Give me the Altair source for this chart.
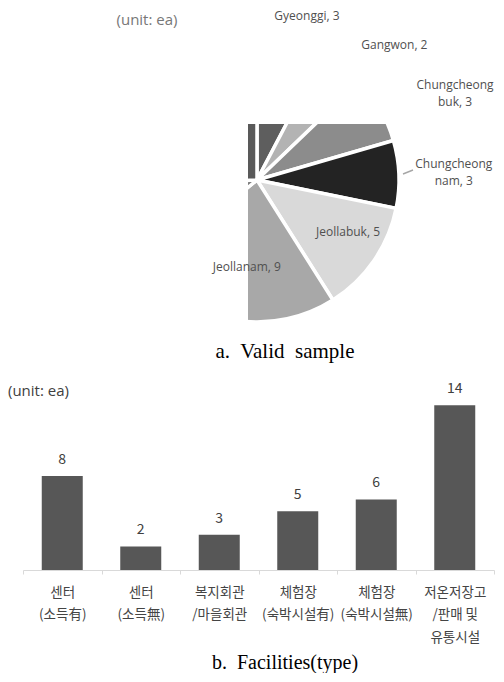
import altair as alt
import pandas as pd

# ---------------- panel a: valid sample by region (pie, cropped in the source figure)
regions = ["Gyeonggi", "Gangwon", "Chungcheong\nbuk", "Chungcheong\nnam",
           "Jeollabuk", "Jeollanam", "Gyeongsangbuk", "Gyeongsangnam"]
region_counts = [3, 2, 3, 3, 5, 9, 4, 10]
region_colors = ["#5e5e5e", "#b3b3b3", "#8c8c8c", "#232323",
                 "#d9d9d9", "#a8a8a8", "#7d7d7d", "#595959"]

# ---------------- panel b: facilities by type
facility_types = ["센터\n(소득有)", "센터\n(소득無)", "복지회관\n/마을회관",
                  "체험장\n(숙박시설有)", "체험장\n(숙박시설無)", "저온저장고\n/판매 및\n유통시설"]
facility_counts = [8, 2, 3, 5, 6, 14]

# label placement style for the visible pie labels: (radius, dx, dy, line height)
label_place = [(171, 9, 2, 12), (192, 22, 18.5, 12), (216, 11, 13, 17),
               (207, -10, -7.7, 17), (105, 4.6, -7.6, 12), (88, 4, 0, 12)]

SANS = "Open Sans"
KR = "Noto Sans CJK KR"
SERIF = "Liberation Serif"

one = pd.DataFrame({"k": [0]})

# ---------------- pie view
pie_df = pd.DataFrame({"region": regions, "count": region_counts,
                       "order": list(range(len(regions)))})
pie_df["label"] = [f"{r}, {c}" for r, c in zip(regions, region_counts)]
total = sum(region_counts)
theta_scale = alt.Scale(domain=[0, total])

CX, CY, R = 234, 172, 142

arcs = alt.Chart(pie_df).mark_arc(radius=R, stroke="white", strokeWidth=3.5).encode(
    x=alt.value(CX), y=alt.value(CY),
    theta=alt.Theta("count:Q", stack=True, scale=theta_scale),
    order=alt.Order("order:Q"),
    color=alt.Color("region:N", scale=alt.Scale(domain=regions, range=region_colors),
                    legend=None),
)

# the source figure shows the pie cropped on its left and top
mask_left = alt.Chart(one).mark_rect(color="white").encode(
    x=alt.value(0), x2=alt.value(225), y=alt.value(0), y2=alt.value(330))
mask_top = alt.Chart(one).mark_rect(color="white").encode(
    x=alt.value(200), x2=alt.value(400), y=alt.value(0), y2=alt.value(116))

leader = alt.Chart(one).mark_rule(color="#a6a6a6", strokeWidth=1.5).encode(
    x=alt.value(380), x2=alt.value(390), y=alt.value(166), y2=alt.value(162))

label_base = alt.Chart(pie_df).transform_window(
    cum="sum(count)", sort=[alt.SortField("order")]
).transform_calculate(mid="datum.cum - datum.count / 2")

label_layers = []
for i, (r, dx, dy, lh) in enumerate(label_place):
    label_layers.append(
        label_base.transform_filter(alt.datum.order == i).mark_text(
            radius=r, dx=dx, dy=dy, lineBreak="\n", lineHeight=lh, font=SANS,
            fontSize=12, color="#505050", align="center", baseline="middle"
        ).encode(
            x=alt.value(CX), y=alt.value(CY),
            theta=alt.Theta("mid:Q", scale=theta_scale),
            text="label:N",
        )
    )

unit_a = alt.Chart(one).mark_text(text="(unit: ea)", font=SANS, fontSize=15,
                                  color="#777777", align="center", baseline="middle").encode(
    x=alt.value(124), y=alt.value(12))
caption_a = alt.Chart(one).mark_text(text="a.\u00a0 Valid\u00a0 sample", font=SERIF,
                                     fontSize=21, color="#000000", align="center",
                                     baseline="middle").encode(
    x=alt.value(262), y=alt.value(344))

pie_view = alt.layer(arcs, mask_left, mask_top, leader, *label_layers, unit_a, caption_a
                     ).properties(width=471, height=362)

# ---------------- bar view
bar_df = pd.DataFrame({"type": facility_types, "count": facility_counts})
x_enc = alt.X("type:N", sort=facility_types,
              scale=alt.Scale(paddingInner=0, paddingOuter=0),
              axis=alt.Axis(title=None, labelAngle=0,
                            labelExpr="split(datum.label, '\\n')",
                            tickBand="extent", domainColor="#d9d9d9", tickColor="#d9d9d9",
                            tickSize=4, labelPadding=11, labelFont=KR, labelFontSize=13.5,
                            labelColor="#444444", labelLineHeight=22.5, labelOverlap=False))
y_enc = alt.Y("count:Q", scale=alt.Scale(domain=[0, 17], nice=False), axis=None)

bars = alt.Chart(bar_df).mark_bar(color="#575757", width=41).encode(x=x_enc, y=y_enc)
values = alt.Chart(bar_df).mark_text(dy=-12, baseline="alphabetic", font=KR, fontSize=14,
                                     color="#404040").encode(x=x_enc, y=y_enc, text="count:Q")
unit_b = alt.Chart(one).mark_text(text="(unit: ea)", font=SANS, fontSize=15, color="#404040",
                                  align="left", baseline="middle").encode(
    x=alt.value(-15), y=alt.value(21))
caption_b = alt.Chart(one).mark_text(text="b.\u00a0 Facilities(type)", font=SERIF,
                                     fontSize=20, color="#000000", align="center",
                                     baseline="middle").encode(
    x=alt.value(262), y=alt.value(293))

bar_view = alt.layer(bars, values, unit_b, caption_b).properties(width=471, height=200)

chart = alt.vconcat(pie_view, bar_view, spacing=0).properties(
    padding={"left": 0, "top": 0, "right": 0, "bottom": 0}
).configure_view(strokeWidth=0)

chart.save("out.html", embed_options={"renderer": "svg", "actions": False})
